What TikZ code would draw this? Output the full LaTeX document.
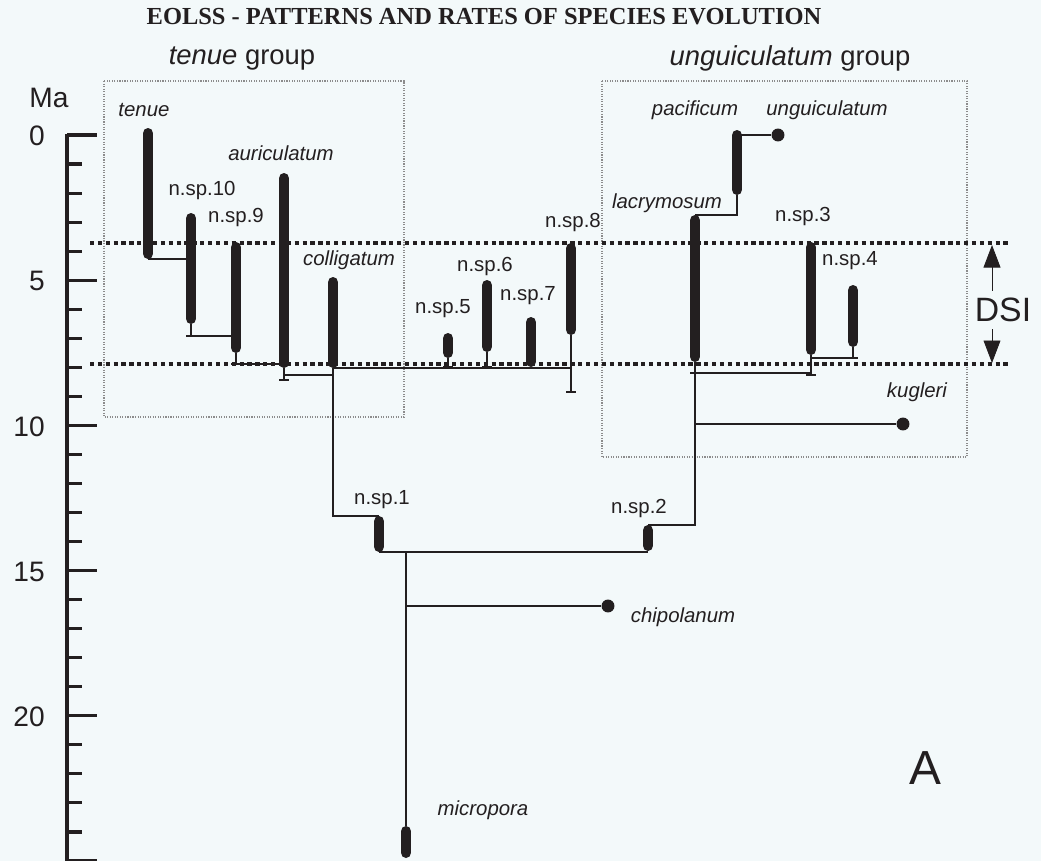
\documentclass[tikz,border=0pt]{standalone}
\usepackage{fontspec}
\setmainfont{Liberation Sans}
\newfontfamily\titlefont{Liberation Serif}
\usepackage{xcolor}
\usepackage{tikz}
\usetikzlibrary{arrows.meta, positioning}
\definecolor{ink}{RGB}{35,31,32}
\definecolor{paper}{RGB}{243,249,250}
\definecolor{boxgray}{RGB}{140,140,140}

\begin{document}
\begin{tikzpicture}[x=0.025cm, y=-0.025cm,
    bar/.style={ink, line width=7.4pt, line cap=round, shorten <=3.7pt, shorten >=3.7pt},
    link/.style={ink, line width=1.2pt},
    axis/.style={ink, line width=2.2pt},
    dsiline/.style={ink, line width=2.2pt, dash pattern=on 3pt off 2.6pt},
    dsiarrow/.style={ink, line width=0.6pt, -{Triangle[length=16pt, width=12pt]}},
    grpbox/.style={boxgray, line width=0.8pt, densely dotted},
    tip/.style={circle, fill=ink, inner sep=0pt, minimum size=9.2pt},
    sp/.style={ink, font=\fontsize{14.5}{16}\selectfont\itshape, inner sep=0pt},
    nsp/.style={ink, font=\fontsize{14.5}{16}\selectfont, inner sep=0pt},
    grp/.style={ink, font=\fontsize{19.5}{22}\selectfont, inner sep=0pt}]
    \useasboundingbox (0,0) rectangle (1041,861);
    \fill[paper] (0,0) rectangle (1041,861);

    % Title and group names
    \node[ink, font=\titlefont\bfseries\fontsize{17.4}{20}\selectfont, inner sep=0pt] (title) at (484,17)
        {EOLSS - PATTERNS AND RATES OF SPECIES EVOLUTION};
    \node[grp] (g-tenue) at (242,58) {\textit{tenue} group};
    \node[grp] (g-ungu) at (790,58) {\textit{unguiculatum} group};
    \draw[grpbox] (104,81) rectangle (404,417);
    \draw[grpbox] (602,81) rectangle (967,457);

    % Time axis
    \node[ink, font=\fontsize{20}{24}\selectfont, inner sep=0pt] (ma) at (49,98) {Ma};
    \draw[axis] (67,134) -- (67,870);
    \foreach \m in {0,...,25} {
        \draw[axis] (67,{135+29.04*\m}) -- ++(15,0);
    }
    \foreach \m in {0,5,...,25} {
        \draw[axis] (67,{135+29.04*\m}) -- ++(30,0);
    }
    \foreach \m in {0,5,10,15,20} {
        \node[ink, font=\fontsize{20}{24}\selectfont, inner sep=0pt, anchor=east] (t\m) at (45,{136+29.04*\m}) {\m};
    }

    % DSI interval
    \draw[dsiline] (90,243) -- (1008,243);
    \draw[dsiline] (90,364) -- (1008,364);
    \node[ink, font=\fontsize{24}{28}\selectfont, inner sep=5pt] (dsi) at (1003,310) {DSI};
    \coordinate (dsiup) at (992,245);
    \coordinate (dsidn) at (992,363);
    \draw[dsiarrow] (dsi.north -| dsiup) -- (dsiup);
    \draw[dsiarrow] (dsi.south -| dsidn) -- (dsidn);

    % Ranges of species
    \foreach \n/\x/\t/\b in {tenue/148/128/259, nsp10/191/213/324, nsp9/236/242/353,
        auric/284/173/368, collig/333/277/368, nsp5/448/333/358, nsp6/487/280/352,
        nsp7/531/317/367, nsp8/571/243/335, nsp1/379/516/552, nsp2/648/525/551,
        lacry/695/215/362, pacif/737/130/195, nsp3/811/242/355, nsp4/853/285/347,
        microp/406/826/858} {
        \draw[bar] (\x,\t) coordinate (\n-t) -- (\x,\b) coordinate (\n-b);
    }
    \foreach \n/\x/\f in {nsp10/191/336, nsp9/236/364, auric/284/380, nsp5/448/367,
        nsp6/487/367, nsp8/571/392, lacry/695/373, nsp3/811/375, nsp4/853/358} {
        \draw[link] (\n-b) -- (\x,\f) coordinate (\n-f) ++(-5,0) -- ++(10,0);
    }
    \node[tip] (ungu) at (778,135) {};
    \node[tip] (kug) at (903,424) {};
    \node[tip] (chip) at (608,606) {};

    % Branches
    \coordinate (j-ac) at (284,375);
    \draw[link] (tenue-b) -- (tenue-b -| nsp10-t);
    \draw[link] (nsp10-f) -- (nsp10-f -| nsp9-t);
    \draw[link] (nsp9-f) -- (nsp9-f -| auric-t);
    \draw[link] (j-ac) -- (j-ac -| collig-t);
    \draw[link] (collig-b) -- (collig-b -| nsp8-t);
    \draw[link] (collig-b) |- (nsp1-t);
    \draw[link] (nsp1-b) -- (nsp1-b -| nsp2-b);
    \draw[link] (nsp1-b -| microp-t) -- (microp-t);
    \draw[link] (chip -| microp-t) -- (chip);
    \draw[link] (nsp2-t) -| (lacry-f);
    \draw[link] (kug -| lacry-f) -- (kug);
    \draw[link] (lacry-f) -- (lacry-f -| nsp3-t);
    \draw[link] (nsp4-f) -- (nsp4-f -| nsp3-t);
    \draw[link] (lacry-t) -| (pacif-b);
    \draw[link] (ungu -| pacif-t) -- (ungu);

    % Names
    \node[sp] (l-tenue) at (144,110) {tenue};
    \node[nsp] (l-nsp10) at (202,190) {n.sp.10};
    \node[nsp] (l-nsp9) at (236,217) {n.sp.9};
    \node[sp] (l-auric) at (281,153) {auriculatum};
    \node[sp] (l-collig) at (349,260) {colligatum};
    \node[nsp] (l-nsp5) at (443,309) {n.sp.5};
    \node[nsp] (l-nsp6) at (485,266) {n.sp.6};
    \node[nsp] (l-nsp7) at (528,296) {n.sp.7};
    \node[nsp] (l-nsp8) at (573,222) {n.sp.8};
    \node[nsp] (l-nsp1) at (382,500) {n.sp.1};
    \node[nsp] (l-nsp2) at (639,508) {n.sp.2};
    \node[sp] (l-lacry) at (667,203) {lacrymosum};
    \node[sp] (l-pacif) at (695,110) {pacificum};
    \node[sp] (l-ungu) at (827,110) {unguiculatum};
    \node[nsp] (l-nsp3) at (803,216) {n.sp.3};
    \node[nsp] (l-nsp4) at (850,261) {n.sp.4};
    \node[sp] (l-kug) at (917,392) {kugleri};
    \node[sp] (l-chip) at (683,617) {chipolanum};
    \node[sp] (l-microp) at (483,810) {micropora};
    \node[ink, font=\fontsize{34}{40}\selectfont, inner sep=0pt] (panel) at (925,768) {A};
\end{tikzpicture}
\end{document}
